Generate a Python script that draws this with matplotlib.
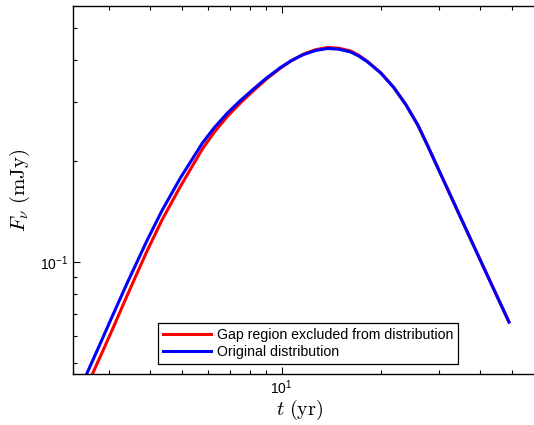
import matplotlib
matplotlib.use("Agg")
import matplotlib.pyplot as plt
from matplotlib.ticker import NullFormatter, LogLocator

plt.rcParams['font.family'] = ['Liberation Sans', 'DejaVu Sans']
plt.rcParams['mathtext.fontset'] = 'cm'

# time (yr) and flux (mJy)
t = [2.399, 2.555, 2.798, 3.064, 3.403, 3.914, 4.347, 4.932, 5.754, 6.258,
     6.855, 7.504, 8.222, 9.003, 9.930, 10.72, 11.67, 12.69, 13.80, 14.90,
     16.21, 17.14, 18.25, 20.00, 21.90, 23.82, 25.91, 27.78, 29.81, 35.00,
     41.11, 48.98]
f_orig = [0.04009, 0.04601, 0.05614, 0.06877, 0.08658, 0.1163, 0.1429,
          0.1781, 0.2265, 0.2521, 0.2785, 0.3034, 0.3284, 0.3542, 0.3807,
          0.3995, 0.4163, 0.4279, 0.4339, 0.4318, 0.4235, 0.4120, 0.3954,
          0.3666, 0.3319, 0.2952, 0.2564, 0.2220, 0.1908, 0.1353, 0.0960,
          0.0662]
f_gap = [0.03667, 0.04208, 0.05135, 0.06267, 0.07951, 0.1082, 0.1339,
         0.1680, 0.2176, 0.2444, 0.2723, 0.2984, 0.3248, 0.3518, 0.3791,
         0.3989, 0.4177, 0.4303, 0.4369, 0.4348, 0.4264, 0.4143, 0.3967,
         0.3671, 0.3319, 0.2952, 0.2564, 0.2220, 0.1908, 0.1353, 0.0960,
         0.0662]

labels = ['Gap region excluded from distribution', 'Original distribution']

fig = plt.figure(figsize=(5.34, 4.25), dpi=100)
# axes run past the right edge of the picture, as in the original crop
ax = fig.add_axes([73/534, 1-374/425, (545-73)/534, (374-6)/425])

ax.loglog(t, f_gap, color='#ff0000', lw=2.2, label=labels[0])
ax.loglog(t, f_orig, color='#0000ff', lw=2.2, label=labels[1])

ax.set_xlim(2.33, 63)
ax.set_ylim(0.0463, 0.581)

ax.xaxis.set_minor_formatter(NullFormatter())
ax.yaxis.set_minor_formatter(NullFormatter())
ax.yaxis.set_minor_locator(LogLocator(subs=range(2, 10)))
ax.tick_params(which='both', direction='in', top=True, right=True,
               labelsize=10, width=0.8, color='black')
ax.tick_params(which='major', length=5)
ax.tick_params(which='minor', length=3)
for s in ax.spines.values():
    s.set_linewidth(1.0)

ax.set_xlabel(r'$t\ \mathrm{(yr)}$', fontsize=14.5)
ax.set_ylabel(r'$F_\nu\ \mathrm{(mJy)}$', fontsize=15, labelpad=6)
ax.xaxis.set_label_coords((300-73)/(545-73), -0.066)

leg = ax.legend(loc='lower left', bbox_to_anchor=(158/534, 1-364/425),
                bbox_transform=fig.transFigure, borderaxespad=0,
                fontsize=10.2, fancybox=False, framealpha=1,
                edgecolor='black', handlelength=3.4, handletextpad=0.4,
                labelspacing=0.25, borderpad=0.35)
leg.get_frame().set_linewidth(0.9)

fig.savefig('out.png', dpi=100)
